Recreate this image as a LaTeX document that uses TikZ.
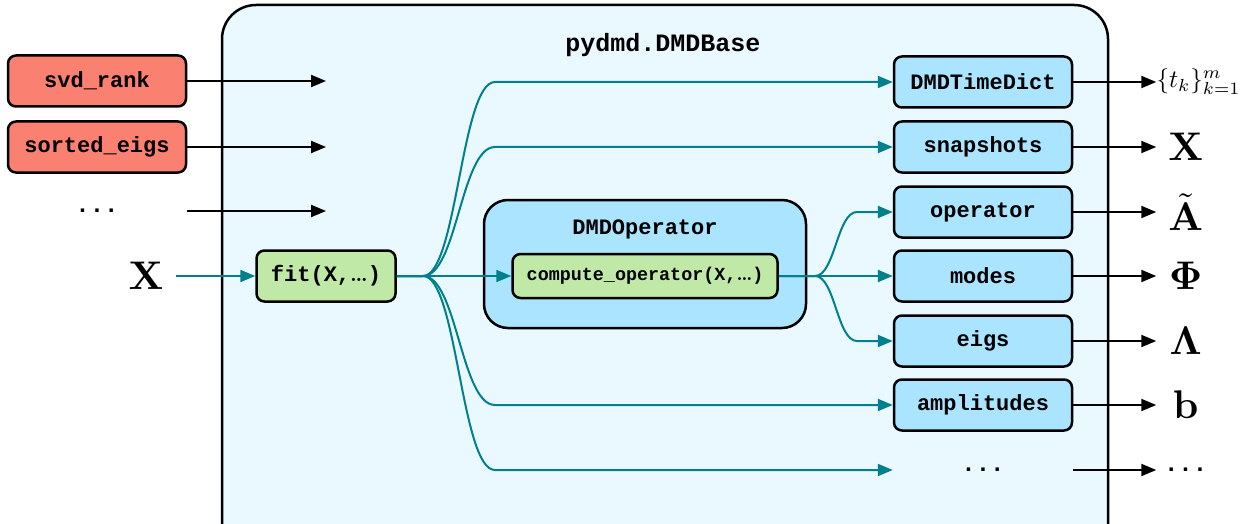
\documentclass[tikz,border=0pt]{standalone}
\usepackage[no-math]{fontspec}
\setmonofont{Liberation Mono}
\usetikzlibrary{arrows.meta,positioning}

\definecolor{basefill}{RGB}{234,248,255}
\definecolor{attrfill}{RGB}{170,228,255}
\definecolor{methfill}{RGB}{192,232,166}
\definecolor{parfill}{RGB}{250,128,114}
\definecolor{flowteal}{RGB}{0,128,140}

\tikzset{
  code/.style={font=\fontsize{11}{13}\selectfont\ttfamily\bfseries},
  box/.style={code, draw, line width=1.25pt, rounded corners=4pt,
    minimum width=89pt, minimum height=25.5pt, inner sep=0pt},
  param/.style={box, fill=parfill},
  attr/.style={box, fill=attrfill},
  method/.style={box, fill=methfill},
  arr/.style={-{Triangle[length=7.5pt,width=6pt]}, line width=1pt},
  flow/.style={arr, color=flowteal},
  sym/.style={inner sep=0pt, minimum width=29pt, anchor=west},
}
\newcommand{\bigsym}[1]{\scalebox{2}{$#1$}}

\begin{document}
\begin{tikzpicture}[x=0.5pt,y=-0.5pt]
\useasboundingbox (0,0) rectangle (1242,524);

% the class
\draw[fill=basefill, line width=1.25pt, rounded corners=17pt] (222,5) rectangle (1108,600);
\node[code, font=\fontsize{12.5}{15}\selectfont\ttfamily\bfseries] (base) at (663,45) {pydmd.DMDBase};

% constructor arguments
\node[param] (rank) at (97,81) {svd\_rank};
\node[param] (sorted) at (97,147) {sorted\_eigs};
\node[box, draw=none, font=\fontsize{12}{14}\selectfont\ttfamily\bfseries] (morepar) at (97,211) {...};
\foreach \n/\y in {rank/81, sorted/147, morepar/211}
  {\coordinate (\n-in) at (326,\y);
   \draw[arr] (\n) -- (\n-in);}

% fit and the operator
\node (xin) at (146,276) {\bigsym{\mathbf{X}}};
\node[method, minimum width=69.5pt] (fit) at (326,276) {fit(X,{\rmfamily …})};
\node[attr, minimum width=161pt, minimum height=64pt, rounded corners=12pt] (dmdop) at (645,264) {};
\node[code] (optitle) at (645,229) {DMDOperator};
\node[method, font=\fontsize{9.2}{11}\selectfont\ttfamily\bfseries,
  minimum width=132.5pt, minimum height=22pt] (comp) at (645,276) {compute\_operator(X,{\rmfamily …})};

% attributes
\foreach \n/\t/\y in {time/DMDTimeDict/82, snap/snapshots/147, op/operator/212,
  modes/modes/276, eigs/eigs/341, amp/amplitudes/405}
  \node[attr] (\n) at (983,\y) {\t};
\node[box, draw=none, font=\fontsize{12}{14}\selectfont\ttfamily\bfseries] (moreattr) at (983,470) {...};

% returned quantities
\node[sym, right=41.5pt of time] (time-out) {\scalebox{1.25}{$\{t_k\}_{k=1}^m$}};
\node[sym, right=41.5pt of snap] (snap-out) {\bigsym{\mathbf{X}}};
\node[sym, right=41.5pt of op] (op-out) {\bigsym{\tilde{\mathbf{A}}}};
\node[sym, right=41.5pt of modes] (modes-out) {\bigsym{\mathbf{\Phi}}};
\node[sym, right=41.5pt of eigs] (eigs-out) {\bigsym{\mathbf{\Lambda}}};
\node[sym, right=41.5pt of amp] (amp-out) {\bigsym{\mathbf{b}}};
\node[sym, font=\fontsize{12}{14}\selectfont\ttfamily\bfseries, right=41.5pt of moreattr] (moreattr-out) {...};
\foreach \n in {time, snap, op, modes, eigs, amp, moreattr}
  \draw[arr] (\n) -- (\n-out);

% data flow
\draw[flow, shorten <=3pt] (xin) -- (fit);
\draw[flow] (fit) -- (comp);
\coordinate (split) at (423,276);
\foreach \n/\y in {time/82, snap/147, amp/405, moreattr/470}
  \draw[flow] (fit) -- (split) .. controls +(34,0) and +(-34,0) .. (495,\y) -- (\n);
\coordinate (opsplit) at (815,276);
\foreach \n/\y in {op/212, modes/276, eigs/341}
  \draw[flow] (comp) -- (opsplit) .. controls +(20,0) and +(-20,0) .. (857,\y) -- (\n);
\end{tikzpicture}
\end{document}
